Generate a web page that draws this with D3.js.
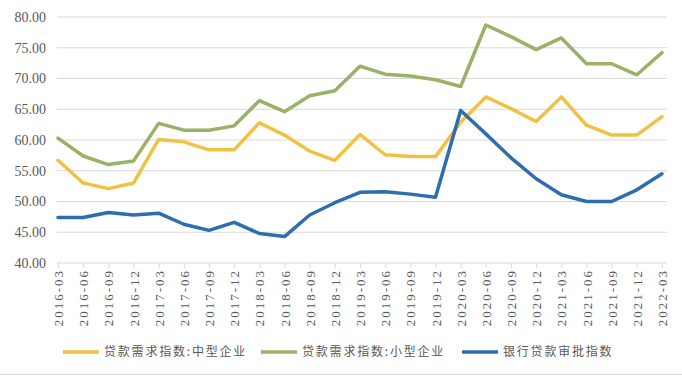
<!DOCTYPE html>
<html><head><meta charset="utf-8">
<script src="https://cdn.jsdelivr.net/npm/d3@7"></script>
<style>
html,body{margin:0;padding:0;background:#fff;}
svg{display:block;}
</style></head>
<body>
<svg id="chart" width="682" height="376"></svg>
<script>
const categories = ["2016-03","2016-06","2016-09","2016-12","2017-03","2017-06","2017-09","2017-12","2018-03","2018-06","2018-09","2018-12","2019-03","2019-06","2019-09","2019-12","2020-03","2020-06","2020-09","2020-12","2021-03","2021-06","2021-09","2021-12","2022-03"];
const mediumDemand = [56.7,53.0,52.1,53.0,60.1,59.7,58.4,58.4,62.8,60.8,58.2,56.7,60.9,57.6,57.3,57.3,62.9,67.0,65.1,63.0,67.0,62.4,60.8,60.8,63.8];
const smallDemand = [60.3,57.4,56.0,56.6,62.7,61.6,61.6,62.3,66.4,64.6,67.2,68.0,72.0,70.7,70.4,69.8,68.7,78.7,76.8,74.7,76.6,72.4,72.4,70.6,74.2];
const approval = [47.4,47.4,48.2,47.8,48.1,46.3,45.3,46.6,44.8,44.3,47.8,49.8,51.5,51.6,51.2,50.7,64.8,61.0,57.1,53.7,51.1,50.0,50.0,51.9,54.5];
const yTicks = [40,45,50,55,60,65,70,75,80];
const seriesNames = ["贷款需求指数:中型企业","贷款需求指数:小型企业","银行贷款审批指数"];
const seriesColors = ["#F0C143","#9BB266","#2E6DB0"];

const svg = d3.select("#chart");
const x = d3.scalePoint().domain(categories).range([58, 662]);
const y = d3.scaleLinear().domain([40, 80]).range([263, 17]);

// gridlines
svg.append("g").selectAll("line").data(yTicks.filter(d=>d>40)).join("line")
  .attr("x1", 57).attr("x2", 667)
  .attr("y1", d=>y(d)).attr("y2", d=>y(d))
  .attr("stroke", "#d9d9d9").attr("stroke-width", 1);

// y axis labels
const yAxis = d3.axisLeft(y).tickValues(yTicks).tickFormat(d3.format(".2f")).tickSize(0).tickPadding(0);
const yg = svg.append("g").attr("transform", "translate(46,0)").call(yAxis);
yg.select(".domain").remove();
yg.selectAll("text").attr("font-family","'Liberation Serif', serif").attr("font-size", 14).attr("fill","#595959");

// x axis
const xAxis = d3.axisBottom(x).tickSize(5).tickPadding(4);
const xg = svg.append("g").attr("transform", `translate(0,${y(40)})`).call(xAxis);
xg.select(".domain").attr("stroke","#d9d9d9").attr("d", `M57,0H667`);
xg.selectAll(".tick line").attr("stroke","#d9d9d9");
xg.selectAll("text")
  .attr("font-family","'Liberation Serif', serif").attr("font-size", 13).attr("fill","#595959")
  .attr("letter-spacing", "2px")
  .attr("transform","rotate(-90)").attr("text-anchor","end")
  .attr("x", -6).attr("y", 0).attr("dy","0.35em");

// lines
const line = d3.line().x((d,i)=>x(categories[i])).y(d=>y(d));
[mediumDemand, smallDemand, approval].forEach((s, k) => {
  svg.append("path").datum(s).attr("d", line).attr("fill","none")
    .attr("stroke", seriesColors[k]).attr("stroke-width", 3.5)
    .attr("stroke-linejoin","round").attr("stroke-linecap","round");
});

// legend
const legendX = [63, 261, 462];
const lg = svg.append("g");
seriesNames.forEach((n, k) => {
  lg.append("line").attr("x1", legendX[k]).attr("x2", legendX[k]+36)
    .attr("y1", 352).attr("y2", 352).attr("stroke", seriesColors[k]).attr("stroke-width", 3.5);
  lg.append("text").attr("x", legendX[k]+41).attr("y", 352).attr("dy","0.36em")
    .attr("font-family","'Noto Sans CJK SC', sans-serif").attr("font-size", 12)
    .attr("letter-spacing","1.8px").attr("fill","#595959").text(n);
});

// bottom border
svg.append("line").attr("x1",0).attr("x2",682).attr("y1",374.5).attr("y2",374.5).attr("stroke","#d9d9d9");
</script>
</body></html>
